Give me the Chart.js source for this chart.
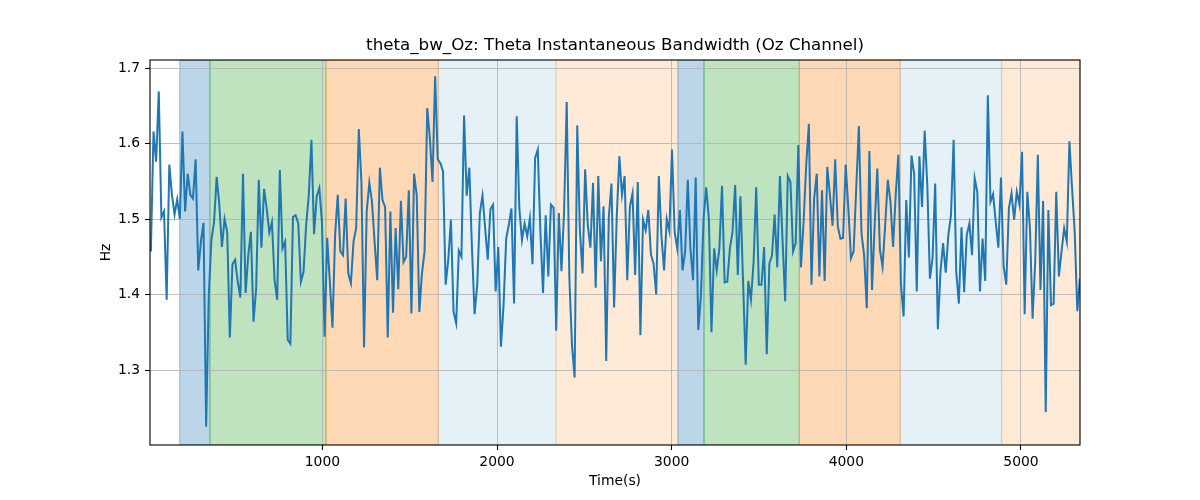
<!DOCTYPE html>
<html>
<head>
<meta charset="utf-8">
<script src="https://cdn.jsdelivr.net/npm/chart.js@4.4.0/dist/chart.umd.min.js"></script>
<style>
html,body{margin:0;padding:0;background:#fff;}
#wrap{width:1200px;height:500px;position:relative;}
</style>
</head>
<body>
<div id="wrap"><canvas id="c" width="1200" height="500"></canvas></div>
<script>
// ---- data ----
const timeStart = 18;      // s, first sample
const timeStep = 15.07;    // s between samples
const bandwidthHz = [
1.457,1.616,1.576,1.669,1.502,1.510,1.393,1.572,1.532,1.506,
1.526,1.500,1.616,1.510,1.560,1.532,1.527,1.579,1.432,1.470,
1.495,1.225,1.399,1.472,1.496,1.556,1.519,1.463,1.500,1.483,
1.343,1.440,1.446,1.417,1.396,1.560,1.402,1.452,1.483,1.364,
1.408,1.552,1.462,1.540,1.514,1.482,1.496,1.419,1.393,
1.565,1.461,1.470,1.340,1.335,1.503,1.505,1.494,1.417,1.430,
1.492,1.532,1.605,1.480,1.530,1.541,1.496,1.344,1.475,1.417,
1.356,1.479,1.532,1.457,1.452,1.527,1.428,1.415,1.470,1.488,
1.619,1.549,1.330,1.510,1.548,1.523,1.470,1.419,1.568,1.525,
1.516,1.343,1.510,1.376,1.488,1.407,1.524,1.443,1.450,1.538,
1.375,
1.560,1.532,1.377,1.428,1.457,1.647,1.607,1.549,1.689,1.579,
1.574,1.563,1.413,1.446,1.499,1.377,1.362,1.458,1.450,1.637,
1.531,1.568,1.461,1.374,1.413,1.508,1.531,1.488,1.446,1.513,
1.519,1.404,1.463,1.331,1.386,1.474,1.492,1.514,1.388,1.636,
1.514,1.472,1.494,1.477,1.501,1.440,1.581,1.592,1.483,1.402,
1.505,
1.424,1.519,1.515,1.352,1.508,1.431,1.510,1.655,1.422,1.333,
1.290,1.624,1.485,1.428,1.566,1.492,1.462,1.548,1.409,1.557,
1.444,1.517,1.312,1.503,1.547,1.383,1.502,1.583,1.532,1.557,
1.419,1.516,1.534,1.426,1.549,1.346,1.499,1.485,1.512,1.453,
1.441,1.400,1.557,1.477,1.432,1.500,1.484,1.592,1.483,1.461,
1.512,
1.432,1.457,1.552,1.461,1.419,1.555,1.353,1.399,1.501,1.542,
1.501,1.350,1.461,1.432,1.461,1.544,1.416,1.417,1.461,1.483,
1.545,1.426,1.530,1.417,1.307,1.418,1.393,1.443,1.542,1.413,
1.413,1.463,1.321,1.441,1.452,1.506,1.436,1.557,1.472,1.391,
1.557,1.549,1.457,1.468,1.598,1.436,1.496,1.572,1.626,1.413,
1.527,1.560,
1.424,1.538,1.418,1.569,1.532,1.491,1.579,1.490,1.474,1.475,
1.572,1.514,1.448,1.457,1.541,1.623,1.481,1.452,1.382,1.590,
1.406,1.492,1.567,1.459,1.437,1.492,1.552,1.523,1.463,1.532,
1.585,1.413,1.371,1.525,1.449,1.584,1.560,1.404,1.583,1.516,
1.617,1.545,1.421,1.448,1.547,1.354,1.430,1.468,1.429,1.479,
1.505,
1.605,1.430,1.388,1.489,1.403,1.479,1.494,1.452,1.554,1.536,
1.404,1.474,1.418,1.664,1.523,1.533,1.496,1.462,1.555,1.437,
1.413,1.514,1.534,1.499,1.536,1.519,1.589,1.374,1.536,1.488,
1.368,1.443,1.585,1.406,1.524,1.244,1.512,1.386,1.388,1.536,
1.424,1.457,1.488,1.470,1.603,1.541,1.483,1.378,1.421
];
const xTickValues = [1000, 2000, 3000, 4000, 5000];
const yTickValues = [1.3, 1.4, 1.5, 1.6, 1.7];
const xLimits = [13, 5338];
const yLimits = [1.2007, 1.7106];
// shaded stage segments (seconds)
const segmentStart = [183, 356, 1021, 1664, 2338, 3036, 3185, 3731, 4309, 4889];
const segmentEnd   = [356, 1021, 1664, 2338, 3036, 3185, 3731, 4309, 4889, 5338];
const segmentKind  = ['a', 'b', 'c', 'd', 'e', 'a', 'b', 'c', 'd', 'e'];

// ---- styles ----
const segmentColor = {
  a: 'rgba(31,119,180,0.3)',
  b: 'rgba(44,160,44,0.3)',
  c: 'rgba(255,127,14,0.3)',
  d: 'rgba(31,119,180,0.11)',
  e: 'rgba(255,127,14,0.16)'
};

const points = bandwidthHz.map((v, i) => ({x: timeStart + i * timeStep, y: v}));

Chart.defaults.font.family = 'DejaVu Sans';
Chart.defaults.color = '#000';

const spanPlugin = {
  id: 'spans',
  beforeDraw(chart) {
    const {ctx, chartArea: a, scales: {x}} = chart;
    ctx.save();
    ctx.beginPath();
    ctx.rect(a.left, a.top, a.right - a.left, a.bottom - a.top);
    ctx.clip();
    for (let i = 0; i < segmentStart.length; i++) {
      const x0 = x.getPixelForValue(segmentStart[i]);
      const x1 = x.getPixelForValue(segmentEnd[i]);
      ctx.fillStyle = segmentColor[segmentKind[i]];
      ctx.fillRect(x0, a.top, x1 - x0, a.bottom - a.top);
      ctx.strokeStyle = segmentColor[segmentKind[i]];
      ctx.lineWidth = 1.3;
      ctx.strokeRect(x0, a.top, x1 - x0, a.bottom - a.top);
    }
    ctx.restore();
  }
};

const framePlugin = {
  id: 'frame',
  afterDraw(chart) {
    const {ctx, chartArea: a} = chart;
    ctx.save();
    ctx.strokeStyle = '#000';
    ctx.lineWidth = 1.1;
    ctx.strokeRect(a.left, a.top, a.right - a.left, a.bottom - a.top);
    ctx.restore();
  }
};

new Chart(document.getElementById('c'), {
  type: 'line',
  data: {
    datasets: [{
      data: points,
      borderColor: '#1f77b4',
      borderWidth: 2,
      pointRadius: 0,
      tension: 0,
      fill: false
    }]
  },
  options: {
    responsive: false,
    animation: false,
    devicePixelRatio: 1,
    parsing: false,
    layout: {padding: {left: 0, right: 120, top: 0, bottom: 0}},
    plugins: {
      legend: {display: false},
      tooltip: {enabled: false},
      title: {
        display: true,
        fullSize: false,
        text: 'theta_bw_Oz: Theta Instantaneous Bandwidth (Oz Channel)',
        font: {size: 16.7, weight: 'normal'},
        color: '#000',
        padding: {top: 36, bottom: 3.96}
      }
    },
    scales: {
      x: {
        type: 'linear',
        min: xLimits[0],
        max: xLimits[1],
        afterBuildTicks: s => { s.ticks = xTickValues.map(v => ({value: v})); },
        afterFit: s => { s.height = 55; },
        ticks: {font: {size: 13.9}, color: '#000', padding: 4, maxRotation: 0, callback: v => String(v)},
        grid: {color: '#b0b0b0', lineWidth: 0.8, tickColor: '#000', tickLength: 5, tickWidth: 1.1},
        border: {display: false},
        title: {display: true, text: 'Time(s)', font: {size: 13.9}, color: '#000', padding: {top: 0, bottom: 10.6}}
      },
      y: {
        type: 'linear',
        min: yLimits[0],
        max: yLimits[1],
        afterBuildTicks: s => { s.ticks = yTickValues.map(v => ({value: v})); },
        afterFit: s => { s.width = 150; },
        ticks: {font: {size: 13.9}, color: '#000', padding: 5, callback: v => v.toFixed(1)},
        grid: {color: '#b0b0b0', lineWidth: 0.8, tickColor: '#000', tickLength: 5, tickWidth: 1.1},
        border: {display: false},
        title: {display: true, text: 'Hz', font: {size: 13.9}, color: '#000', padding: {top: 97.6, bottom: 0}}
      }
    }
  },
  plugins: [spanPlugin, framePlugin]
});
</script>
</body>
</html>
